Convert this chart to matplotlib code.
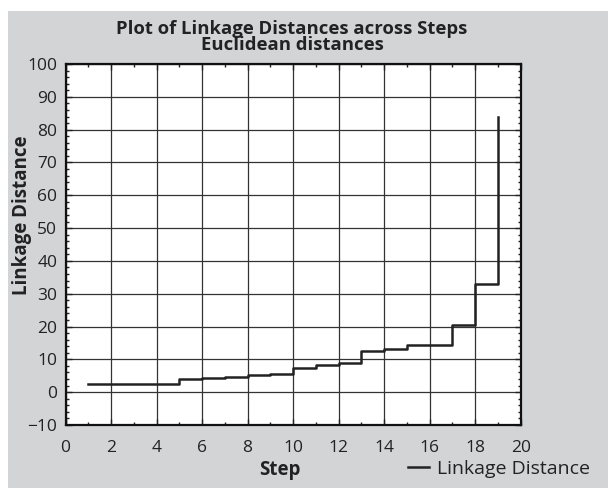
import matplotlib
matplotlib.use("Agg")
import matplotlib.pyplot as plt
from matplotlib.patches import Rectangle
from matplotlib.ticker import MultipleLocator

plt.rcParams['font.family'] = ['Open Sans', 'DejaVu Sans']

steps = [1, 2, 3, 4, 5, 6, 7, 8, 9, 10, 11, 12, 13, 14, 15, 16, 17, 18, 19]
linkage = [2.5, 2.5, 2.5, 2.5, 4.1, 4.4, 4.7, 5.1, 5.5, 7.3, 8.2, 9.0,
           12.5, 13.3, 14.3, 14.5, 20.5, 33.0, 84.0]

title = "Plot of Linkage Distances across Steps\nEuclidean distances"
xlabel = "Step"
ylabel = "Linkage Distance"
series_name = "Linkage Distance"

W, H = 608, 488
fig = plt.figure(figsize=(W / 100, H / 100), dpi=100, facecolor='white')
bg = '#d3d4d6'
fig.patches.append(Rectangle((8 / W, 0), 1 - 8 / W, (H - 11) / H,
                             transform=fig.transFigure, facecolor=bg,
                             edgecolor='none', zorder=-10))

l, r, t, b = 65.5, 520.7, 64, 425
ax = fig.add_axes([l / W, (H - b) / H, (r - l) / W, (b - t) / H])
ax.set_facecolor('white')

ax.plot(steps, linkage, drawstyle='steps-post', color='#222222', lw=1.8,
        label=series_name, zorder=3)

ax.set_xlim(0, 20)
ax.set_ylim(-10, 100)
ax.xaxis.set_major_locator(MultipleLocator(2))
ax.xaxis.set_minor_locator(MultipleLocator(1))
ax.yaxis.set_major_locator(MultipleLocator(10))
ax.yaxis.set_minor_locator(MultipleLocator(2))
ax.grid(True, which='major', color='#333333', lw=0.9)
ax.tick_params(which='both', direction='in', top=True, right=True,
               labelsize=12.5, colors='#222222')
ax.tick_params(axis='x', which='major', pad=11)
ax.tick_params(axis='y', which='major', pad=6)
ax.tick_params(which='major', length=4, width=1)
ax.tick_params(which='minor', length=2.5, width=1)
for s in ax.spines.values():
    s.set_linewidth(1.6)
    s.set_color('#111111')

fig.text(292 / W, 1 - 37 / H, title, ha='center', va='center',
         fontsize=13.3, fontweight='bold', linespacing=0.92, color='#222222')
fig.text(280 / W, 1 - 470 / H, xlabel, ha='center', va='center',
         fontsize=13.5, fontweight='bold', color='#222222')
fig.text(22 / W, 1 - 215 / H, ylabel, ha='center', va='center', rotation=90,
         fontsize=13.5, fontweight='bold', color='#222222')

leg = fig.legend(loc='center left', bbox_to_anchor=(390 / W, 1 - 469 / H),
                 frameon=False, fontsize=14, handlelength=1.1,
                 handletextpad=0.4, labelcolor='#222222')

fig.savefig('out.png', dpi=100, facecolor='white')
